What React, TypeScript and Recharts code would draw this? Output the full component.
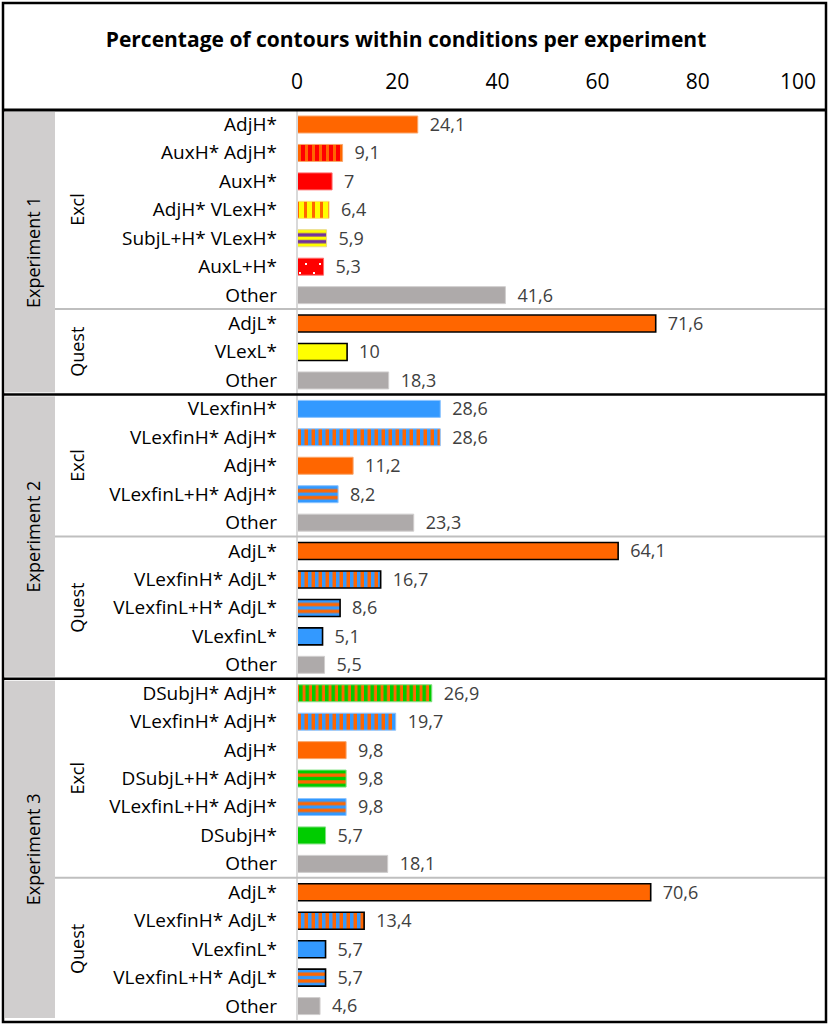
import React from 'react';
import { BarChart, Bar, XAxis, YAxis, Cell, LabelList } from 'recharts';

// one list of labels and one of values per experiment / condition
const exp1ExclLabels = ['AdjH*', 'AuxH* AdjH*', 'AuxH*', 'AdjH* VLexH*', 'SubjL+H* VLexH*', 'AuxL+H*', 'Other'];
const exp1ExclValues = [24.1, 9.1, 7, 6.4, 5.9, 5.3, 41.6];
const exp1QuestLabels = ['AdjL*', 'VLexL*', 'Other'];
const exp1QuestValues = [71.6, 10, 18.3];

const exp2ExclLabels = ['VLexfinH*', 'VLexfinH* AdjH*', 'AdjH*', 'VLexfinL+H* AdjH*', 'Other'];
const exp2ExclValues = [28.6, 28.6, 11.2, 8.2, 23.3];
const exp2QuestLabels = ['AdjL*', 'VLexfinH* AdjL*', 'VLexfinL+H* AdjL*', 'VLexfinL*', 'Other'];
const exp2QuestValues = [64.1, 16.7, 8.6, 5.1, 5.5];

const exp3ExclLabels = ['DSubjH* AdjH*', 'VLexfinH* AdjH*', 'AdjH*', 'DSubjL+H* AdjH*', 'VLexfinL+H* AdjH*', 'DSubjH*', 'Other'];
const exp3ExclValues = [26.9, 19.7, 9.8, 9.8, 9.8, 5.7, 18.1];
const exp3QuestLabels = ['AdjL*', 'VLexfinH* AdjL*', 'VLexfinL*', 'VLexfinL+H* AdjL*', 'Other'];
const exp3QuestValues = [70.6, 13.4, 5.7, 5.7, 4.6];

const xTicks = [0, 20, 40, 60, 80, 100];
const experiments = ['Experiment 1', 'Experiment 2', 'Experiment 3'];

const groups = [
  { exp: 0, condition: 'Excl', labels: exp1ExclLabels, values: exp1ExclValues },
  { exp: 0, condition: 'Quest', labels: exp1QuestLabels, values: exp1QuestValues },
  { exp: 1, condition: 'Excl', labels: exp2ExclLabels, values: exp2ExclValues },
  { exp: 1, condition: 'Quest', labels: exp2QuestLabels, values: exp2QuestValues },
  { exp: 2, condition: 'Excl', labels: exp3ExclLabels, values: exp3ExclValues },
  { exp: 2, condition: 'Quest', labels: exp3QuestLabels, values: exp3QuestValues },
];

const rows = groups.flatMap((g, gi) =>
  g.labels.map((label, i) => ({ key: `${gi}-${i}`, label, value: g.values[i], condition: g.condition }))
);
const labelOf: Record<string, string> = {};
rows.forEach((r) => (labelOf[r.key] = r.label));

const ORANGE = '#FF6600';
const RED = '#FF0000';
const YELLOW = '#FFFF00';
const PURPLE = '#7030A0';
const BLUE = '#3399FF';
const GREEN = '#00CC00';
const GRAY = '#AEAAAA';

// fill + light edge per contour type
const barStyle: Record<string, { fill: string; edge: string }> = {
  'AdjH*': { fill: ORANGE, edge: '#F9A66C' },
  'AdjL*': { fill: ORANGE, edge: '#F9A66C' },
  'AuxH*': { fill: RED, edge: '#FF7070' },
  'AuxH* AdjH*': { fill: 'url(#vRedOrange)', edge: '#F9A66C' },
  'AdjH* VLexH*': { fill: 'url(#vYellowOrange)', edge: '#FFE07A' },
  'SubjL+H* VLexH*': { fill: 'url(#hYellowPurple)', edge: '#E8D88A' },
  'AuxL+H*': { fill: 'url(#dotsRed)', edge: '#FF7070' },
  'VLexL*': { fill: YELLOW, edge: '#FFFF80' },
  'VLexfinH*': { fill: BLUE, edge: '#8CC4FF' },
  'VLexfinL*': { fill: BLUE, edge: '#8CC4FF' },
  'VLexfinH* AdjH*': { fill: 'url(#vBlueOrange)', edge: '#8CC4FF' },
  'VLexfinH* AdjL*': { fill: 'url(#vBlueOrange)', edge: '#8CC4FF' },
  'VLexfinL+H* AdjH*': { fill: 'url(#hBlueOrange)', edge: '#8CC4FF' },
  'VLexfinL+H* AdjL*': { fill: 'url(#hBlueOrange)', edge: '#8CC4FF' },
  'DSubjH* AdjH*': { fill: 'url(#vGreenOrange)', edge: '#80E080' },
  'DSubjL+H* AdjH*': { fill: 'url(#hGreenOrange)', edge: '#80E080' },
  'DSubjH*': { fill: GREEN, edge: '#80E080' },
  Other: { fill: GRAY, edge: '#D0CECE' },
};

const W = 829;
const H = 1026;
const margin = { top: 70, right: 31, bottom: 6, left: 0 };
const xAxisHeight = 40;
const yAxisWidth = 297;
const plotTop = margin.top + xAxisHeight;
const plotBottom = H - margin.bottom;
const rowH = (plotBottom - plotTop) / rows.length;
const font = '"Open Sans", "Noto Sans", sans-serif';

const vStripes = (id: string, a: string, b: string, period: number, bWidth: number) => (
  <pattern id={id} patternUnits="userSpaceOnUse" width={period} height={40}>
    <rect width={period} height={40} fill={a} />
    <rect width={bWidth} height={40} fill={b} />
  </pattern>
);

const hStripes = (id: string, a: string, b: string, cuts: number[]) => (
  <pattern id={id} patternUnits="objectBoundingBox" patternContentUnits="objectBoundingBox" width={1} height={1}>
    <rect width={1} height={1} fill={a} />
    <rect y={cuts[0]} width={1} height={cuts[1] - cuts[0]} fill={b} />
    <rect y={cuts[2]} width={1} height={cuts[3] - cuts[2]} fill={b} />
  </pattern>
);

const fmt = (v: any) => String(v).replace('.', ',');

export default function App() {
  // row index ranges for experiment blocks and condition blocks
  let start = 0;
  const condBlocks = groups.map((g) => {
    const b = { exp: g.exp, condition: g.condition, from: start, to: start + g.labels.length };
    start += g.labels.length;
    return b;
  });
  const expBlocks = experiments.map((name, e) => {
    const bs = condBlocks.filter((b) => b.exp === e);
    return { name, from: bs[0].from, to: bs[bs.length - 1].to };
  });
  const yAt = (i: number) => plotTop + i * rowH;

  return (
    <div style={{ position: 'absolute', left: 0, top: 0, width: W, height: H, background: '#fff' }}>
      <BarChart width={W} height={H} data={rows} layout="vertical" margin={margin} barSize={17}>
        <defs>
          {vStripes('vRedOrange', ORANGE, RED, 7, 4)}
          {vStripes('vYellowOrange', YELLOW, ORANGE, 8, 3)}
          {vStripes('vBlueOrange', ORANGE, BLUE, 7, 3.5)}
          {vStripes('vGreenOrange', ORANGE, GREEN, 6.5, 3.5)}
          {hStripes('hYellowPurple', YELLOW, PURPLE, [0.2, 0.4, 0.6, 0.8])}
          {hStripes('hBlueOrange', BLUE, ORANGE, [0.2, 0.4, 0.6, 0.8])}
          {hStripes('hGreenOrange', GREEN, ORANGE, [0.2, 0.4, 0.6, 0.8])}
          <pattern id="dotsRed" patternUnits="userSpaceOnUse" width={14} height={17}>
            <rect width={14} height={17} fill={RED} />
            <rect x={5} y={0} width={2} height={2} fill="#fff" />
            <rect x={11} y={8} width={2} height={2} fill="#fff" />
          </pattern>
        </defs>
        <XAxis
          type="number"
          orientation="top"
          domain={[0, 100]}
          ticks={xTicks}
          height={xAxisHeight}
          axisLine={false}
          tickLine={false}
          tickSize={0}
          tickMargin={21}
          tick={{ fontSize: 21, fill: '#000', fontFamily: font }}
        />
        <YAxis
          type="category"
          dataKey="key"
          width={yAxisWidth}
          interval={0}
          tickLine={false}
          tickSize={0}
          tickMargin={20}
          axisLine={{ stroke: '#D9D9D9', strokeWidth: 2 }}
          tickFormatter={(k: string) => labelOf[k]}
          tick={{ fontSize: 19, fill: '#000', fontFamily: font }}
        />
        <Bar dataKey="value" isAnimationActive={false}>
          {rows.map((r) => {
            const s = barStyle[r.label];
            const quest = r.condition === 'Quest' && r.label !== 'Other';
            return (
              <Cell
                key={r.key}
                fill={s.fill}
                stroke={quest ? '#000' : s.edge}
                strokeWidth={quest ? 1.6 : 1}
              />
            );
          })}
          <LabelList
            dataKey="value"
            position="right"
            offset={12}
            formatter={fmt}
            style={{ fontSize: 18, fill: '#404040', fontFamily: font }}
          />
        </Bar>
      </BarChart>

      <svg width={W} height={H} style={{ position: 'absolute', left: 0, top: 0, pointerEvents: 'none' }}>
        <text x={406} y={47} textAnchor="middle" fontFamily={font} fontWeight={700} fontSize={21} fill="#000">
          Percentage of contours within conditions per experiment
        </text>
        {expBlocks.map((b) => {
          const y0 = yAt(b.from);
          const y1 = yAt(b.to);
          const cy = (y0 + y1) / 2;
          return (
            <g key={b.name}>
              <rect x={5} y={y0 + 2} width={50} height={y1 - y0 - 4} fill="#D0CECE" />
              <text
                x={33}
                y={cy}
                transform={`rotate(-90 33 ${cy})`}
                textAnchor="middle"
                dominantBaseline="central"
                fontFamily={font}
                fontSize={18}
                fill="#000"
              >
                {b.name}
              </text>
            </g>
          );
        })}
        {condBlocks.map((b, i) => {
          const y0 = yAt(b.from);
          const y1 = yAt(b.to);
          const cy = (y0 + y1) / 2;
          return (
            <g key={i}>
              <text
                x={77}
                y={cy}
                transform={`rotate(-90 77 ${cy})`}
                textAnchor="middle"
                dominantBaseline="central"
                fontFamily={font}
                fontSize={18}
                fill="#000"
              >
                {b.condition}
              </text>
              {b.condition === 'Quest' && (
                <line x1={55} x2={826} y1={y0} y2={y0} stroke="#BFBFBF" strokeWidth={2} />
              )}
            </g>
          );
        })}
        {expBlocks.slice(1).map((b) => (
          <line key={b.name} x1={3} x2={826} y1={yAt(b.from)} y2={yAt(b.from)} stroke="#000" strokeWidth={2.5} />
        ))}
        <line x1={3} x2={826} y1={plotTop} y2={plotTop} stroke="#000" strokeWidth={3} />
        <rect x={3} y={3} width={823} height={1019} fill="none" stroke="#000" strokeWidth={2.5} />
      </svg>
    </div>
  );
}
